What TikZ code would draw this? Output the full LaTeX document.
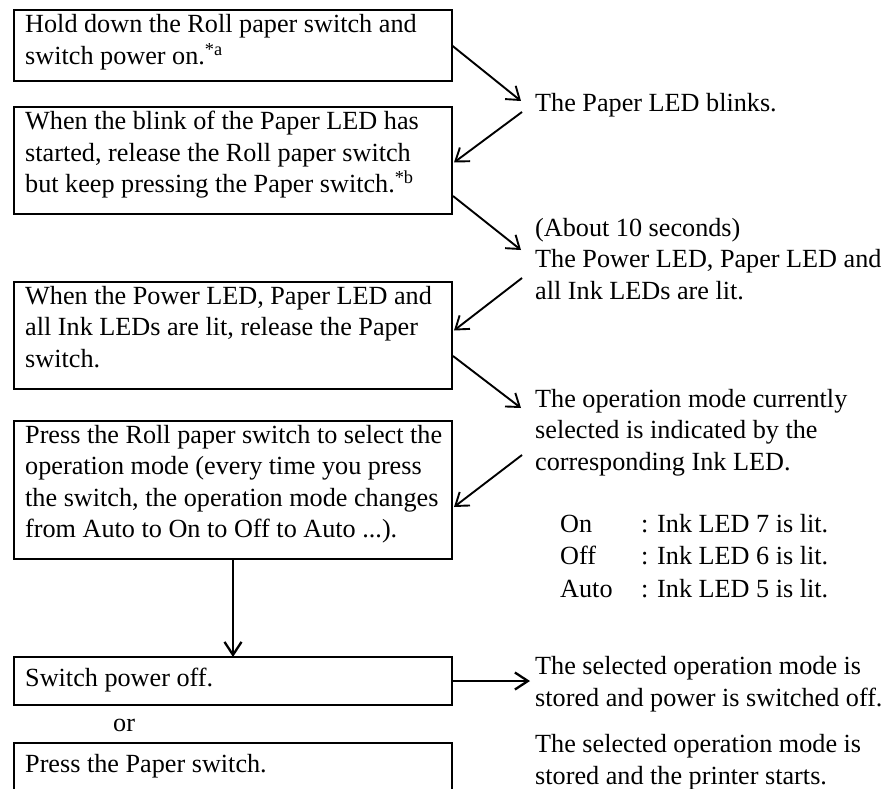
\documentclass[tikz,border=0pt]{standalone}
\usepackage{fontspec}
\setmainfont{Liberation Serif}
\usetikzlibrary{arrows.meta}
\begin{document}
\begin{tikzpicture}[x=1pt,y=-1pt,
  box/.style={draw, line width=2.2pt, anchor=north west, minimum width=438pt, inner sep=0pt, outer sep=0pt},
  txt/.style={anchor=base west, inner sep=0pt, align=left, font=\fontsize{26.2}{31.5}\selectfont},
  conn/.style={line width=1.9pt, -{Straight Barb[length=12pt,width=17pt]}},
  thickconn/.style={line width=2.3pt, -{Straight Barb[length=13pt,width=17pt]}}]
\useasboundingbox (0,0) rectangle (889,789);
\clip (0,0) rectangle (889,789);
% left boxes
\node[box, minimum height=71pt] (b1) at (14,10) {};
\node[box, minimum height=107pt] (b2) at (14,107) {};
\node[box, minimum height=107pt] (b3) at (14,282) {};
\node[box, minimum height=138pt] (b4) at (14,421) {};
\node[box, minimum height=48pt] (b5) at (14,657) {};
\node[box, minimum height=70pt] (b6) at (14,743) {};
% texts in boxes (placed by last baseline)
\node[txt] (b1t) at (25,64.5) {Hold down the Roll paper switch and\\switch power on.\textsuperscript{*a}};
\node[txt] (b2t) at (25,193) {When the blink of the Paper LED has\\started, release the Roll paper switch\\but keep pressing the Paper switch.\textsuperscript{*b}};
\node[txt] (b3t) at (25,367) {When the Power LED, Paper LED and\\all Ink LEDs are lit, release the Paper\\switch.};
\node[txt] (b4t) at (25,537.5) {Press the Roll paper switch to select the\\operation mode (every time you press\\the switch, the operation mode changes\\from Auto to On to Off to Auto ...).};
\node[txt] (b5t) at (25,686) {Switch power off.};
\node[txt] (b6t) at (25,772) {Press the Paper switch.};
\node[txt] (or) at (113,731) {or};
% right texts (placed by last baseline)
\node[txt] (t1) at (535,112) {The Paper LED blinks.};
\node[txt] (t2) at (535,299) {(About 10 seconds)\\The Power LED, Paper LED and\\all Ink LEDs are lit.};
\node[txt] (t3) at (535,470) {The operation mode currently\\selected is indicated by the\\corresponding Ink LED.};
\node[txt, font=\fontsize{26.2}{32.5}\selectfont] (t4) at (560,597) {\makebox[81pt][l]{On}: Ink LED 7 is lit.\\\makebox[81pt][l]{Off}: Ink LED 6 is lit.\\\makebox[81pt][l]{Auto}: Ink LED 5 is lit.};
\node[txt, font=\fontsize{26.2}{32}\selectfont] (t5) at (535,706) {The selected operation mode is\\stored and power is switched off.};
\node[txt, font=\fontsize{26.2}{32}\selectfont] (t6) at (535,784) {The selected operation mode is\\stored and the printer starts.};
% connectors
\draw[conn] (b1.east) -- ([shift={(-14,-11)}]t1.base west);
\draw[conn] ([shift={(-13,0)}]t1.base west) -- ([shift={(2,2)}]b2.east);
\draw[conn] ([shift={(1,-18)}]b2.south east) -- ([shift={(-14,-49)}]t2.base west);
\draw[conn] ([shift={(-13,-21)}]t2.base west) -- ([shift={(2,-5)}]b3.east);
\draw[conn] ([shift={(1,-33)}]b3.south east) -- ([shift={(-14,-62)}]t3.base west);
\draw[conn] ([shift={(-13,-15)}]t3.base west) -- ([shift={(2,17)}]b4.east);
\draw[thickconn] (b4.south) -- (b5.north);
\draw[thickconn] (b5.east) -- ([xshift=-5pt]b5.east -| t5.west);
\end{tikzpicture}
\end{document}
